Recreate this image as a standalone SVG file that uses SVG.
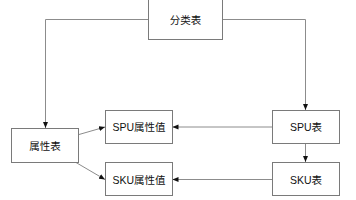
<svg xmlns="http://www.w3.org/2000/svg" width="356" height="200" viewBox="0 0 356 200">
<style>
.box{fill:#fff;stroke:#7a7a7a;stroke-width:1}
.lbl{font-family:"Liberation Sans","Noto Sans CJK SC",sans-serif;font-size:10.5px;fill:#111;text-anchor:middle;dominant-baseline:central}
.con{fill:none;stroke:#8c8c8c;stroke-width:1}
</style>
<defs>
<marker id="ah" viewBox="0 0 6 6" refX="6" refY="3" markerWidth="6" markerHeight="6" markerUnits="userSpaceOnUse" orient="auto">
<path d="M0,0.5 L6,3 L0,5.5 Z" fill="#111"/>
</marker>
</defs>
<rect width="356" height="200" fill="#fff"/>
<g id="connectors">
<path class="con" d="M148.5,19.5 H45.5 V128" marker-end="url(#ah)"/>
<path class="con" d="M222.5,19.5 H305.5 V110" marker-end="url(#ah)"/>
<path class="con" d="M305.5,144 V162" marker-end="url(#ah)"/>
<path class="con" d="M272,127 H172.5" marker-end="url(#ah)"/>
<path class="con" d="M272,179.5 H172.5" marker-end="url(#ah)"/>
<path class="con" d="M79,134.5 L105,127" marker-end="url(#ah)"/>
<path class="con" d="M76,162.5 L105,179.5" marker-end="url(#ah)"/>
</g>
<g id="fenleibiao">
<rect class="box" x="148.5" y="-0.5" width="74" height="40"/>
<text class="lbl" x="185.5" y="19.5">分类表</text>
</g>
<g id="shuxingbiao">
<rect class="box" x="11.5" y="128.5" width="67" height="34"/>
<text class="lbl" x="45" y="145.5">属性表</text>
</g>
<g id="spu-shuxingzhi">
<rect class="box" x="105.5" y="110.5" width="67" height="33"/>
<text class="lbl" x="139" y="127">SPU属性值</text>
</g>
<g id="sku-shuxingzhi">
<rect class="box" x="105.5" y="162.5" width="67" height="33"/>
<text class="lbl" x="139" y="179.5">SKU属性值</text>
</g>
<g id="spubiao">
<rect class="box" x="272.5" y="110.5" width="67" height="33"/>
<text class="lbl" x="306" y="127">SPU表</text>
</g>
<g id="skubiao">
<rect class="box" x="272.5" y="162.5" width="67" height="33"/>
<text class="lbl" x="306" y="179.5">SKU表</text>
</g>
</svg>
